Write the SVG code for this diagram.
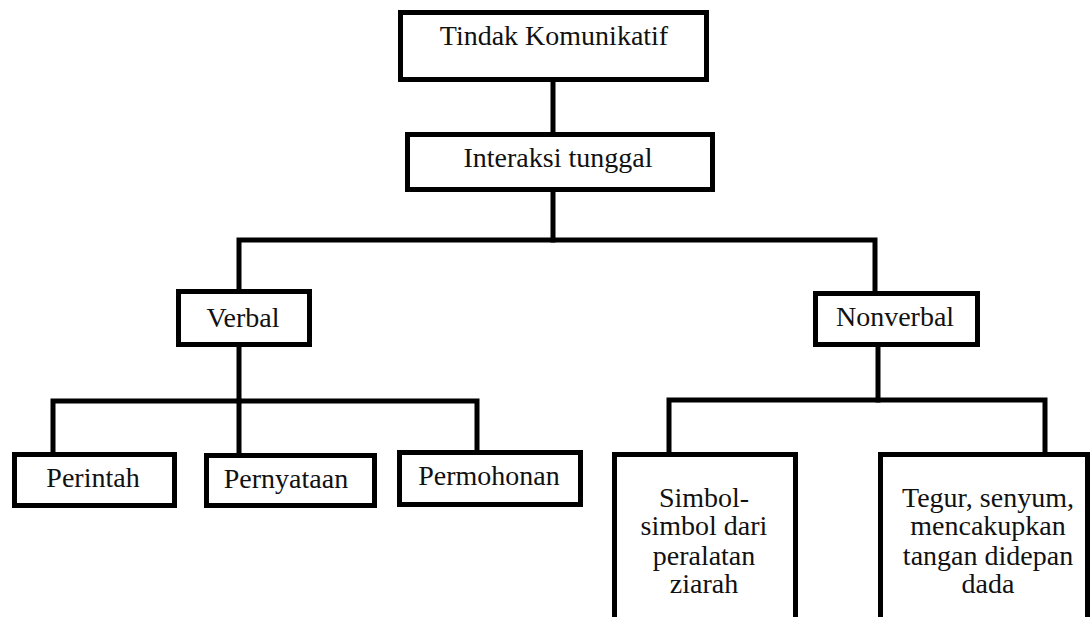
<svg xmlns="http://www.w3.org/2000/svg" width="1092" height="617" viewBox="0 0 1092 617">
<style>
.box{fill:#fff;stroke:#000;stroke-width:5}
.con{fill:none;stroke:#000;stroke-width:5;stroke-linecap:square}
text{font-family:'Liberation Serif','Times New Roman',serif;font-size:28px;fill:#111;text-anchor:middle}
</style>
<rect width="1092" height="617" fill="#fff"/>
<g id="connectors">
<path class="con" d="M553,82V132"/>
<path class="con" d="M553,192V240"/>
<path class="con" d="M239,289V240H875V291"/>
<path class="con" d="M239,347V401"/>
<path class="con" d="M53,452V401H477V450"/>
<path class="con" d="M239,401V452"/>
<path class="con" d="M878,347V400"/>
<path class="con" d="M669,452V400H1045V452"/>
</g>
<g id="n-tindak"><rect class="box" x="400.5" y="12.5" width="306" height="67"/><text x="554" y="45">Tindak Komunikatif</text></g>
<g id="n-interaksi"><rect class="box" x="407.5" y="134.5" width="305" height="55"/><text x="558" y="167">Interaksi tunggal</text></g>
<g id="n-verbal"><rect class="box" x="178.5" y="291.5" width="131" height="53"/><text x="243" y="327">Verbal</text></g>
<g id="n-nonverbal"><rect class="box" x="815.5" y="293.5" width="162" height="51"/><text x="895" y="326">Nonverbal</text></g>
<g id="n-perintah"><rect class="box" x="14.5" y="454.5" width="160" height="51"/><text x="93" y="487">Perintah</text></g>
<g id="n-pernyataan"><rect class="box" x="206.5" y="455.5" width="168" height="50"/><text x="286" y="488">Pernyataan</text></g>
<g id="n-permohonan"><rect class="box" x="399.5" y="452.5" width="181" height="52"/><text x="489" y="485">Permohonan</text></g>
<g id="n-simbol"><rect class="box" x="614.5" y="454.5" width="181" height="200"/>
<text x="704" y="507">Simbol-</text><text x="704" y="535">simbol dari</text><text x="704" y="565">peralatan</text><text x="704" y="593">ziarah</text></g>
<g id="n-tegur"><rect class="box" x="880.5" y="454.5" width="207" height="200"/>
<text x="988" y="507">Tegur, senyum,</text><text x="988" y="535">mencakupkan</text><text x="988" y="565">tangan didepan</text><text x="988" y="593">dada</text></g>
</svg>
